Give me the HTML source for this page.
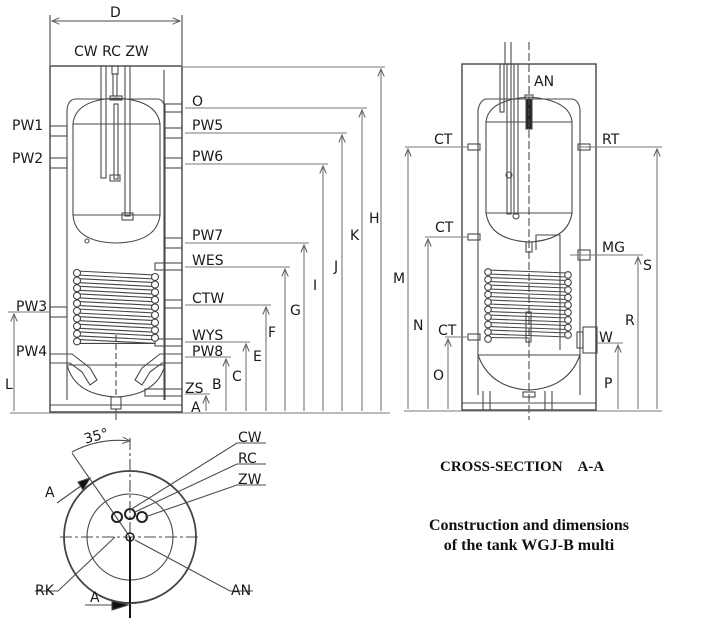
<!DOCTYPE html>
<html><head><meta charset="utf-8"><style>
html,body{margin:0;padding:0;background:#fff;}
svg{display:block;}
text{font-family:"DejaVu Sans","Liberation Sans",sans-serif;fill:#1a1a1a;}
.s{font-family:"Liberation Serif",serif;font-weight:bold;fill:#111;}
</style></head><body>
<svg width="711" height="624" viewBox="0 0 711 624" xmlns="http://www.w3.org/2000/svg">
<defs>
<marker id="ar" markerWidth="8" markerHeight="8" refX="7" refY="3" orient="auto"><path d="M0,0 L7,3 L0,6" fill="none" stroke="#666" stroke-width="1"/></marker>
</defs>
<g fill="none" stroke="#4a4a4a" stroke-width="1.1">
<!-- LEFT TANK -->
<line x1="50" y1="15" x2="50" y2="65"/><line x1="182" y1="15" x2="182" y2="65"/>
<line x1="52" y1="21" x2="180" y2="21" marker-end="url(#ar)"/><line x1="180" y1="21" x2="52" y2="21" marker-end="url(#ar)"/>
<rect x="50" y="66" width="132" height="346" stroke="#444" stroke-width="1.4"/>
<line x1="50" y1="405" x2="182" y2="405"/>
<line x1="164" y1="70" x2="164" y2="400"/>
<path d="M67,400 L67,112 Q67,100 75,99 L158,99 Q165,100 165,112 L165,400" />
<path d="M67,365 L165,365 M67,365 Q75,395 116,397 Q157,395 165,365"/>
<path d="M73,124 Q75,100 116,98 Q157,100 160,124 L160,215 Q157,242 116,243 Q75,242 73,215 Z"/>
<line x1="73" y1="124" x2="160" y2="124"/><line x1="73" y1="215" x2="160" y2="215"/>
<rect x="101" y="66" width="5" height="112"/><rect x="112" y="66" width="6" height="8"/><rect x="113" y="74" width="4" height="22"/>
<rect x="114" y="104" width="4" height="75"/><rect x="110" y="175" width="10" height="6"/>
<rect x="125" y="66" width="5" height="150"/><rect x="122" y="213" width="11" height="7"/>
<rect x="110" y="96" width="12" height="4"/>
<circle cx="87" cy="241" r="2"/>
<rect x="50" y="126" width="17" height="10"/><rect x="50" y="158" width="17" height="10"/>
<rect x="50" y="307" width="17" height="10"/>
<path d="M50,354 L72,354 L90,368 L97,380 L90,385 L82,372 L70,363 L50,363"/>
<path d="M182,354 L160,354 L142,368 L135,380 L142,385 L150,372 L162,363 L182,363"/>
<rect x="165" y="104" width="17" height="8"/><rect x="165" y="128" width="17" height="10"/>
<rect x="165" y="158" width="17" height="10"/><rect x="165" y="238" width="17" height="10"/>
<rect x="155" y="263" width="27" height="7"/><rect x="165" y="300" width="17" height="8"/>
<rect x="155" y="339" width="27" height="7"/><rect x="145" y="389" width="37" height="7"/>
<rect x="111" y="397" width="10" height="12"/><line x1="116" y1="409" x2="116" y2="420"/>
<line x1="116" y1="335" x2="116" y2="397" stroke-dasharray="6,3"/>
<g stroke="#444">
<line x1="77" y1="271" x2="155" y2="275"/><line x1="77" y1="278.6" x2="155" y2="282.6"/><line x1="77" y1="286.2" x2="155" y2="290.2"/><line x1="77" y1="293.8" x2="155" y2="297.8"/><line x1="77" y1="301.4" x2="155" y2="305.4"/><line x1="77" y1="309" x2="155" y2="313"/><line x1="77" y1="316.6" x2="155" y2="320.6"/><line x1="77" y1="324.2" x2="155" y2="328.2"/><line x1="77" y1="331.8" x2="155" y2="335.8"/><line x1="77" y1="339.4" x2="155" y2="343.4"/>
<line x1="77" y1="275" x2="155" y2="279"/><line x1="77" y1="282.6" x2="155" y2="286.6"/><line x1="77" y1="290.2" x2="155" y2="294.2"/><line x1="77" y1="297.8" x2="155" y2="301.8"/><line x1="77" y1="305.4" x2="155" y2="309.4"/><line x1="77" y1="313" x2="155" y2="317"/><line x1="77" y1="320.6" x2="155" y2="324.6"/><line x1="77" y1="328.2" x2="155" y2="332.2"/><line x1="77" y1="335.8" x2="155" y2="339.8"/><line x1="77" y1="343.4" x2="155" y2="343.4"/>
</g>
<g fill="#fff" stroke="#444">
<circle cx="77" cy="273" r="3.5"/><circle cx="77" cy="280.6" r="3.5"/><circle cx="77" cy="288.2" r="3.5"/><circle cx="77" cy="295.8" r="3.5"/><circle cx="77" cy="303.4" r="3.5"/><circle cx="77" cy="311" r="3.5"/><circle cx="77" cy="318.6" r="3.5"/><circle cx="77" cy="326.2" r="3.5"/><circle cx="77" cy="333.8" r="3.5"/><circle cx="77" cy="341.4" r="3.5"/>
<circle cx="155" cy="277" r="3.5"/><circle cx="155" cy="284.6" r="3.5"/><circle cx="155" cy="292.2" r="3.5"/><circle cx="155" cy="299.8" r="3.5"/><circle cx="155" cy="307.4" r="3.5"/><circle cx="155" cy="315" r="3.5"/><circle cx="155" cy="322.6" r="3.5"/><circle cx="155" cy="330.2" r="3.5"/><circle cx="155" cy="337.8" r="3.5"/>
</g>
<g stroke="#777">
<line x1="182" y1="67" x2="385" y2="67"/><line x1="185" y1="108" x2="367" y2="108"/><line x1="185" y1="133" x2="347" y2="133"/><line x1="185" y1="164" x2="328" y2="164"/>
<line x1="185" y1="243" x2="309" y2="243"/><line x1="185" y1="267" x2="290" y2="267"/><line x1="185" y1="305" x2="271" y2="305"/><line x1="185" y1="342" x2="250" y2="342"/>
<line x1="185" y1="357" x2="231" y2="357"/><line x1="185" y1="394" x2="210" y2="394"/>
<line x1="10" y1="413" x2="390" y2="413"/><line x1="8" y1="312" x2="50" y2="312"/>
<line x1="206" y1="411" x2="206" y2="396" marker-end="url(#ar)"/><line x1="226" y1="411" x2="226" y2="359" marker-end="url(#ar)"/>
<line x1="246" y1="411" x2="246" y2="344" marker-end="url(#ar)"/><line x1="266" y1="411" x2="266" y2="307" marker-end="url(#ar)"/>
<line x1="285" y1="411" x2="285" y2="269" marker-end="url(#ar)"/><line x1="304" y1="411" x2="304" y2="245" marker-end="url(#ar)"/>
<line x1="323" y1="411" x2="323" y2="166" marker-end="url(#ar)"/><line x1="342" y1="411" x2="342" y2="135" marker-end="url(#ar)"/>
<line x1="362" y1="411" x2="362" y2="110" marker-end="url(#ar)"/><line x1="381" y1="411" x2="381" y2="69" marker-end="url(#ar)"/>
<line x1="14" y1="411" x2="14" y2="314" marker-end="url(#ar)"/>
</g>
<!-- RIGHT TANK -->
<rect x="462" y="64" width="134" height="346" stroke="#444" stroke-width="1.4"/>
<line x1="462" y1="403" x2="596" y2="403"/>
<path d="M478,395 L478,110 Q480,100 486,99 L572,99 Q579,100 580,110 L580,395"/>
<path d="M478,355 Q490,388 529,390 Q568,388 580,355 Z"/><line x1="478" y1="355" x2="580" y2="355"/>
<path d="M486,122 Q488,100 529,97 Q570,100 572,122 L572,213 Q568,240 529,242 Q490,240 486,213 Z"/>
<line x1="486" y1="122" x2="572" y2="122"/><line x1="486" y1="213" x2="572" y2="213"/>
<rect x="500" y="64" width="4" height="48"/><rect x="507" y="64" width="4" height="150"/><rect x="514" y="64" width="4" height="150"/>
<rect x="525" y="95" width="8" height="4"/><rect x="526" y="99" width="6" height="30" fill="#222"/>
<circle cx="509" cy="175" r="3"/><circle cx="516" cy="216" r="3"/>
<rect x="526" y="242" width="6" height="10"/>
<path d="M536,250 L536,235 L560,235 L560,350"/>
<line x1="529" y1="42" x2="529" y2="420" stroke-dasharray="8,3"/>
<line x1="505" y1="42" x2="505" y2="64"/><line x1="511" y1="42" x2="511" y2="64"/>
<rect x="468" y="144" width="12" height="6"/><rect x="468" y="234" width="12" height="6"/><rect x="468" y="334" width="12" height="6"/>
<rect x="578" y="144" width="12" height="6"/><rect x="578" y="250" width="12" height="10"/>
<rect x="583" y="327" width="14" height="26"/><rect x="577" y="332" width="6" height="16"/>
<path d="M483,391 L483,410 M490,391 L490,410 M545,391 L545,410 M552,391 L552,410"/>
<rect x="523" y="392" width="12" height="5"/>
<rect x="526" y="312" width="5" height="30"/>
<g stroke="#444">
<line x1="488" y1="270" x2="568" y2="273"/><line x1="488" y1="277.5" x2="568" y2="280.5"/><line x1="488" y1="285" x2="568" y2="288"/><line x1="488" y1="292.5" x2="568" y2="295.5"/><line x1="488" y1="300" x2="568" y2="303"/><line x1="488" y1="307.5" x2="568" y2="310.5"/><line x1="488" y1="315" x2="568" y2="318"/><line x1="488" y1="322.5" x2="568" y2="325.5"/><line x1="488" y1="330" x2="568" y2="333"/><line x1="488" y1="337.5" x2="530" y2="338"/>
<line x1="488" y1="274" x2="568" y2="277"/><line x1="488" y1="281.5" x2="568" y2="284.5"/><line x1="488" y1="289" x2="568" y2="292"/><line x1="488" y1="296.5" x2="568" y2="299.5"/><line x1="488" y1="304" x2="568" y2="307"/><line x1="488" y1="311.5" x2="568" y2="314.5"/><line x1="488" y1="319" x2="568" y2="322"/><line x1="488" y1="326.5" x2="568" y2="329.5"/><line x1="488" y1="334" x2="568" y2="337"/>
</g>
<g fill="#fff" stroke="#444">
<circle cx="488" cy="272" r="3.3"/><circle cx="488" cy="279.5" r="3.3"/><circle cx="488" cy="287" r="3.3"/><circle cx="488" cy="294.5" r="3.3"/><circle cx="488" cy="302" r="3.3"/><circle cx="488" cy="309.5" r="3.3"/><circle cx="488" cy="317" r="3.3"/><circle cx="488" cy="324.5" r="3.3"/><circle cx="488" cy="332" r="3.3"/><circle cx="488" cy="339" r="3.3"/>
<circle cx="568" cy="275" r="3.3"/><circle cx="568" cy="282.5" r="3.3"/><circle cx="568" cy="290" r="3.3"/><circle cx="568" cy="297.5" r="3.3"/><circle cx="568" cy="305" r="3.3"/><circle cx="568" cy="312.5" r="3.3"/><circle cx="568" cy="320" r="3.3"/><circle cx="568" cy="327.5" r="3.3"/><circle cx="568" cy="335" r="3.3"/>
</g>
<g stroke="#777">
<line x1="405" y1="147" x2="468" y2="147"/><line x1="425" y1="237" x2="468" y2="237"/><line x1="445" y1="337" x2="468" y2="337"/>
<line x1="578" y1="147" x2="662" y2="147"/><line x1="570" y1="255" x2="643" y2="255"/><line x1="597" y1="343" x2="623" y2="343"/>
<line x1="404" y1="411" x2="662" y2="411"/>
<line x1="408" y1="409" x2="408" y2="149" marker-end="url(#ar)"/><line x1="428" y1="409" x2="428" y2="239" marker-end="url(#ar)"/>
<line x1="448" y1="409" x2="448" y2="339" marker-end="url(#ar)"/><line x1="618" y1="409" x2="618" y2="345" marker-end="url(#ar)"/>
<line x1="638" y1="409" x2="638" y2="257" marker-end="url(#ar)"/><line x1="657" y1="409" x2="657" y2="149" marker-end="url(#ar)"/>
</g>
<!-- BOTTOM VIEW -->
<circle cx="130" cy="537" r="66" stroke="#444" stroke-width="1.8"/>
<circle cx="130" cy="537" r="43"/>
<line x1="60" y1="537" x2="200" y2="537" stroke-dasharray="12,3,3,3"/>
<line x1="130" y1="438" x2="130" y2="537" stroke-dasharray="12,3,3,3"/>
<line x1="130" y1="537" x2="130" y2="618" stroke="#111" stroke-width="2"/>
<line x1="130" y1="537" x2="72" y2="453"/>
<path d="M72,452 A100,100 0 0 1 130,441" marker-end="url(#ar)"/>
<circle cx="117" cy="517" r="5" stroke="#222" stroke-width="2"/><circle cx="130" cy="514" r="5" stroke="#222" stroke-width="2"/><circle cx="142" cy="517" r="5" stroke="#222" stroke-width="2"/>
<circle cx="130" cy="537" r="4" stroke="#222" stroke-width="1.5"/>
<path d="M130,510 L237,443 L266,443 M135,512 L237,464 L266,464 M145,517 L237,485 L266,485 M115,537 L58,591 L35,591 M135,540 L230,591 L253,591"/>
<path d="M57,503 L85,483"/><path d="M78,482 L90,478 L83,490 Z" fill="#111"/>
<path d="M85,605 L122,605"/><path d="M112,600 L128,605 L112,610 Z" fill="#111"/>
<path d="M112,601 Q130,606 148,601"/>
</g>
<g font-size="14">
<text x="110" y="17">D</text>
<text x="74" y="56">CW RC ZW</text>
<text x="12" y="130">PW1</text><text x="12" y="163">PW2</text><text x="16" y="311">PW3</text><text x="16" y="356">PW4</text>
<text x="192" y="106">O</text><text x="192" y="130">PW5</text><text x="192" y="161">PW6</text><text x="192" y="240">PW7</text>
<text x="192" y="265">WES</text><text x="192" y="303">CTW</text><text x="192" y="340">WYS</text><text x="192" y="356">PW8</text>
<text x="185" y="393">ZS</text><text x="191" y="412">A</text>
<text x="212" y="389">B</text><text x="232" y="381">C</text><text x="253" y="361">E</text><text x="268" y="337">F</text>
<text x="290" y="315">G</text><text x="313" y="290">I</text><text x="334" y="271">J</text><text x="350" y="240">K</text><text x="369" y="223">H</text>
<text x="5" y="389">L</text>
<text x="534" y="86">AN</text>
<text x="434" y="144">CT</text><text x="435" y="232">CT</text><text x="438" y="335">CT</text>
<text x="602" y="144">RT</text><text x="602" y="252">MG</text><text x="599" y="342">W</text>
<text x="393" y="283">M</text><text x="413" y="330">N</text><text x="433" y="380">O</text>
<text x="604" y="388">P</text><text x="625" y="325">R</text><text x="643" y="270">S</text>
<text x="238" y="442">CW</text><text x="238" y="463">RC</text><text x="238" y="484">ZW</text>
<text x="35" y="595">RK</text><text x="231" y="595">AN</text>
<text x="45" y="497">A</text><text x="90" y="602">A</text>
<text x="84" y="441" transform="rotate(-15 95 437)">35°</text>
</g>
<text class="s" x="440" y="471" font-size="15">CROSS-SECTION&#160;&#160;&#160;&#160;A-A</text>
<text class="s" x="529" y="530" font-size="16" text-anchor="middle">Construction and dimensions</text>
<text class="s" x="529" y="550" font-size="16" text-anchor="middle">of the tank WGJ-B multi</text>
</svg>
</body></html>
